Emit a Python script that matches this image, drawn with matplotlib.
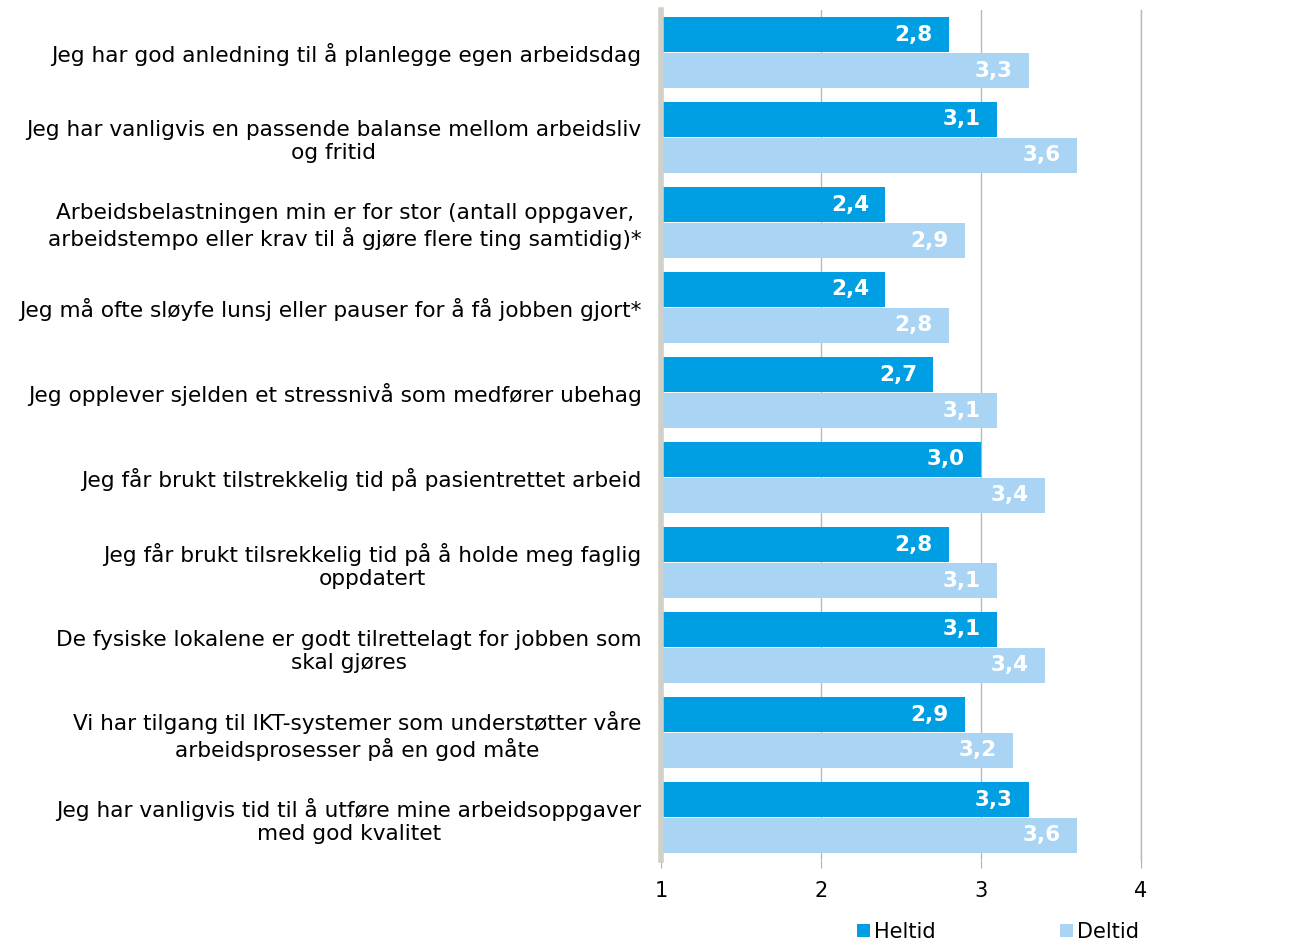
import matplotlib.pyplot as plt
import numpy as np

plt.rcParams['font.family'] = 'DejaVu Sans'

# Data
statements = [
    'Jeg har god anledning til å planlegge egen arbeidsdag',
    'Jeg har vanligvis en passende balanse mellom arbeidsliv\nog fritid',
    'Arbeidsbelastningen min er for stor (antall oppgaver,\narbeidstempo eller krav til å gjøre flere ting samtidig)*',
    'Jeg må ofte sløyfe lunsj eller pauser for å få jobben gjort*',
    'Jeg opplever sjelden et stressnivå som medfører ubehag',
    'Jeg får brukt tilstrekkelig tid på pasientrettet arbeid',
    'Jeg får brukt tilsrekkelig tid på å holde meg faglig\noppdatert',
    'De fysiske lokalene er godt tilrettelagt for jobben som\nskal gjøres',
    'Vi har tilgang til IKT-systemer som understøtter våre\narbeidsprosesser på en god måte',
    'Jeg har vanligvis tid til å utføre mine arbeidsoppgaver\nmed god kvalitet',
]
heltid = [2.8, 3.1, 2.4, 2.4, 2.7, 3.0, 2.8, 3.1, 2.9, 3.3]
deltid = [3.3, 3.6, 2.9, 2.8, 3.1, 3.4, 3.1, 3.4, 3.2, 3.6]
series_names = ['Heltid', 'Deltid']
colors = ['#009FE3', '#A9D4F4']
x_ticks = [1, 2, 3, 4]

fig = plt.figure(figsize=(12.94, 9.43), dpi=100)
ax = fig.add_axes([661 / 1294, 1 - 860 / 943, 480 / 1294, 850 / 943])

y = np.arange(len(statements))
h = 35 / 85
off = 18 / 85
base = 1
b1 = ax.barh(y - off, np.array(heltid) - base, left=base, height=h,
             color=colors[0], label=series_names[0], zorder=2)
b2 = ax.barh(y + off, np.array(deltid) - base, left=base, height=h,
             color=colors[1], label=series_names[1], zorder=2)

# value labels inside bar ends
for bars, vals in ((b1, heltid), (b2, deltid)):
    for bar, v in zip(bars, vals):
        ax.text(v - 0.1, bar.get_y() + bar.get_height() / 2,
                f'{v:.1f}'.replace('.', ','), ha='right', va='center',
                color='white', fontsize=15.5, fontweight='bold', zorder=3)

ax.set_xlim(1, 4)
ax.set_ylim(len(statements) - 0.5, -0.5)
ax.set_xticks(x_ticks)
ax.set_xticklabels([str(t) for t in x_ticks], fontsize=15)
ax.set_yticks(y)
ax.set_yticklabels(statements, fontsize=15.6, multialignment='center')
ax.tick_params(axis='y', length=0, pad=14)
ax.tick_params(axis='x', length=6, color='#b0b0b0', pad=9)

ax.grid(axis='x', color='#b8b8b8', linewidth=1, zorder=0)
ax.axvline(4, color='#b8b8b8', linewidth=1, zorder=0, clip_on=False)
for s in ('top', 'right', 'bottom'):
    ax.spines[s].set_visible(False)
ax.spines['left'].set_color('#d0d0c8')
ax.spines['left'].set_linewidth(4)

leg = fig.legend(handles=[b1, b2], labels=series_names, loc='center',
                 bbox_to_anchor=(998 / 1294, 1 - 932 / 943), ncol=2,
                 frameon=False, fontsize=15, handlelength=0.6, handleheight=0.6,
                 handletextpad=0.2, columnspacing=6)

fig.savefig('out.png', dpi=100)
